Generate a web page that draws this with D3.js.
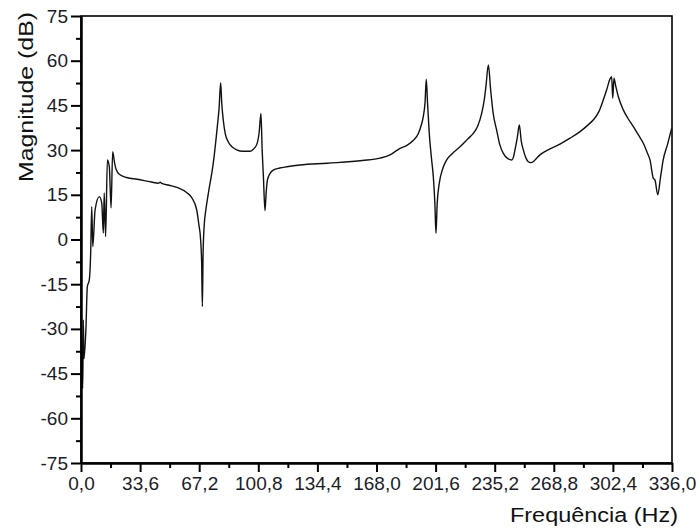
<!DOCTYPE html>
<html>
<head>
<meta charset="utf-8">
<script src="https://cdn.jsdelivr.net/npm/d3@7"></script>
<style>
  body { margin: 0; background: #fff; }
  svg { display: block; font-family: "Liberation Sans", Arial, sans-serif; }
  .axis path, .axis line { stroke: #000; stroke-width: 2; }
  .axis text { fill: #1c1c28; font-size: 19px; }
</style>
</head>
<body>
<svg id="chart" width="699" height="529"></svg>
<script>
// frequency (Hz) and magnitude (dB)
var freq = [0.0, 1.0, 1.3, 1.7, 2.8, 3.6, 4.7, 5.5, 6.1, 6.7, 8.0, 10.4, 11.8, 12.7, 13.2, 14.0,
  15.0, 16.1, 17.1, 18.0, 19.0, 20.0, 22.0, 26.0, 32.0, 40.0, 44.0, 45.0, 46.0, 50.0, 55.0, 60.0,
  63.0, 65.8, 67.0, 68.0, 68.6, 69.0, 69.4, 70.0, 71.0, 72.4, 75.2, 77.5, 78.5, 79.4, 80.0, 80.9,
  82.0, 83.7, 86.0, 88.5, 92.0, 96.0, 98.0, 100.0, 101.3, 102.3, 103.0, 103.7, 104.6, 105.3, 106.0,
  107.5, 109.3, 113.0, 117.0, 124.5, 140.0, 160.0, 170.0, 176.0, 181.4, 185.0, 189.0, 191.8, 193.5,
  194.6, 195.6, 196.3, 197.0, 198.0, 199.3, 200.3, 201.2, 201.8, 202.5, 203.7, 205.5, 207.9, 211.0,
  215.5, 220.0, 223.0, 225.5, 227.8, 229.3, 230.2, 231.6, 232.9, 234.3, 236.3, 238.0, 240.1, 242.5,
  244.9, 246.0, 246.7, 248.0, 249.2, 250.3, 251.5, 253.0, 254.3, 255.7, 257.1, 258.9, 260.9, 264.7,
  272.3, 278.0, 283.7, 288.0, 291.2, 294.5, 296.9, 299.0, 300.7, 301.7, 302.3, 303.0, 304.0, 305.5,
  308.3, 311.0, 314.0, 317.0, 319.7, 322.0, 323.5, 325.4, 326.3, 327.9, 329.5, 331.0, 333.5, 335.8];
var magnitude = [-24, -50, -27, -40, -30, -15.8, -13.6, -4.5, 11, -2.4, 9.9, 14.4, 12.2, 2.2, 15.6, 1,
  26.7, 24.4, 10.6, 29.5, 26, 23.5, 21.8, 20.8, 20.2, 19.3, 18.9, 19.2, 18.8, 18.2, 17.4, 15.8,
  14, 9.9, 5, 0, -8, -22.5, -5, 4.3, 10, 15.5, 25.6, 37.9, 44, 52.6, 46, 40,
  35.5, 32.8, 31, 30.1, 29.6, 29.6, 30.3, 32, 36, 42.3, 30, 21.1, 9.7, 16, 20,
  22.2, 23.3, 24, 24.4, 25, 25.6, 26.5, 27.3, 28.5, 30.6, 31.5, 33.3, 35.6, 38.5,
  41.2, 46, 53.8, 46, 35.6, 27, 21.1, 12, 2.1, 12, 18.9, 23.5, 26.7, 28.8,
  31.1, 33.8, 35.6, 38, 42.3, 47, 51.3, 58.6, 50.2, 42.5, 36.7, 32, 28.9, 27.2,
  26.7, 28, 30, 34, 38.4, 33, 30, 27.3, 26.1, 25.8, 26.1, 27.2, 28.4, 29.8,
  32, 34, 36.2, 38.3, 40.1, 43, 46.8, 50.5, 53.8, 54.6, 47.4, 54.1, 51.5, 47.9,
  43.5, 40.6, 37.9, 35, 32.3, 29, 26.7, 20.5, 20, 15, 21, 26.7, 32, 37.3];

var xTicks = [0, 33.6, 67.2, 100.8, 134.4, 168.0, 201.6, 235.2, 268.8, 302.4, 336.0];
var xMinor = [16.8, 50.4, 84.0, 117.6, 151.2, 184.8, 218.4, 252.0, 285.6, 319.2];
var yTicks = [-75, -60, -45, -30, -15, 0, 15, 30, 45, 60, 75];
var yMinor = [-67.5, -52.5, -37.5, -22.5, -7.5, 7.5, 22.5, 37.5, 52.5, 67.5];

var svg = d3.select("#chart");
var plotLeft = 81, plotRight = 672, plotTop = 16, plotBottom = 463;

var x = d3.scaleLinear().domain([0, 336]).range([plotLeft, plotRight]);
var y = d3.scaleLinear().domain([-75, 75]).range([plotBottom, plotTop]);

var comma = function(d) { return d3.format(".1f")(d).replace(".", ","); };

// frame (top and right edges)
svg.append("rect")
  .attr("x", plotLeft).attr("y", plotTop)
  .attr("width", plotRight - plotLeft).attr("height", plotBottom - plotTop)
  .attr("fill", "none").attr("stroke", "#000").attr("stroke-width", 1.6);

// the curve
var line = d3.line()
  .x(function(d, i) { return x(freq[i]); })
  .y(function(d) { return y(d); })
  .curve(d3.curveMonotoneX);

svg.append("path")
  .datum(magnitude)
  .attr("d", line)
  .attr("fill", "none")
  .attr("stroke", "#111")
  .attr("stroke-width", 1.4)
  .attr("stroke-linejoin", "round");

// axes
svg.append("g").attr("class", "axis")
  .attr("transform", "translate(0," + plotBottom + ")")
  .call(d3.axisBottom(x).tickValues(xMinor).tickSize(5).tickFormat("").tickSizeOuter(0));
svg.append("g").attr("class", "axis")
  .attr("transform", "translate(0," + plotBottom + ")")
  .call(d3.axisBottom(x).tickValues(xTicks).tickSize(9).tickPadding(5).tickFormat(comma).tickSizeOuter(0));

svg.append("g").attr("class", "axis")
  .attr("transform", "translate(" + plotLeft + ",0)")
  .call(d3.axisLeft(y).tickValues(yMinor).tickSize(5).tickFormat("").tickSizeOuter(0));
svg.append("g").attr("class", "axis")
  .attr("transform", "translate(" + plotLeft + ",0)")
  .call(d3.axisLeft(y).tickValues(yTicks).tickSize(10).tickPadding(3).tickFormat(function(d) { return String(d); }).tickSizeOuter(0));

// axis titles
svg.append("text")
  .attr("x", 678).attr("y", 522)
  .attr("text-anchor", "end")
  .attr("font-size", 20)
  .attr("textLength", 168).attr("lengthAdjust", "spacingAndGlyphs")
  .attr("fill", "#111")
  .text("Frequência (Hz)");

svg.append("text")
  .attr("transform", "translate(33,12) rotate(-90)")
  .attr("text-anchor", "end")
  .attr("font-size", 21)
  .attr("textLength", 170).attr("lengthAdjust", "spacingAndGlyphs")
  .attr("fill", "#111")
  .text("Magnitude (dB)");
</script>
</body>
</html>
